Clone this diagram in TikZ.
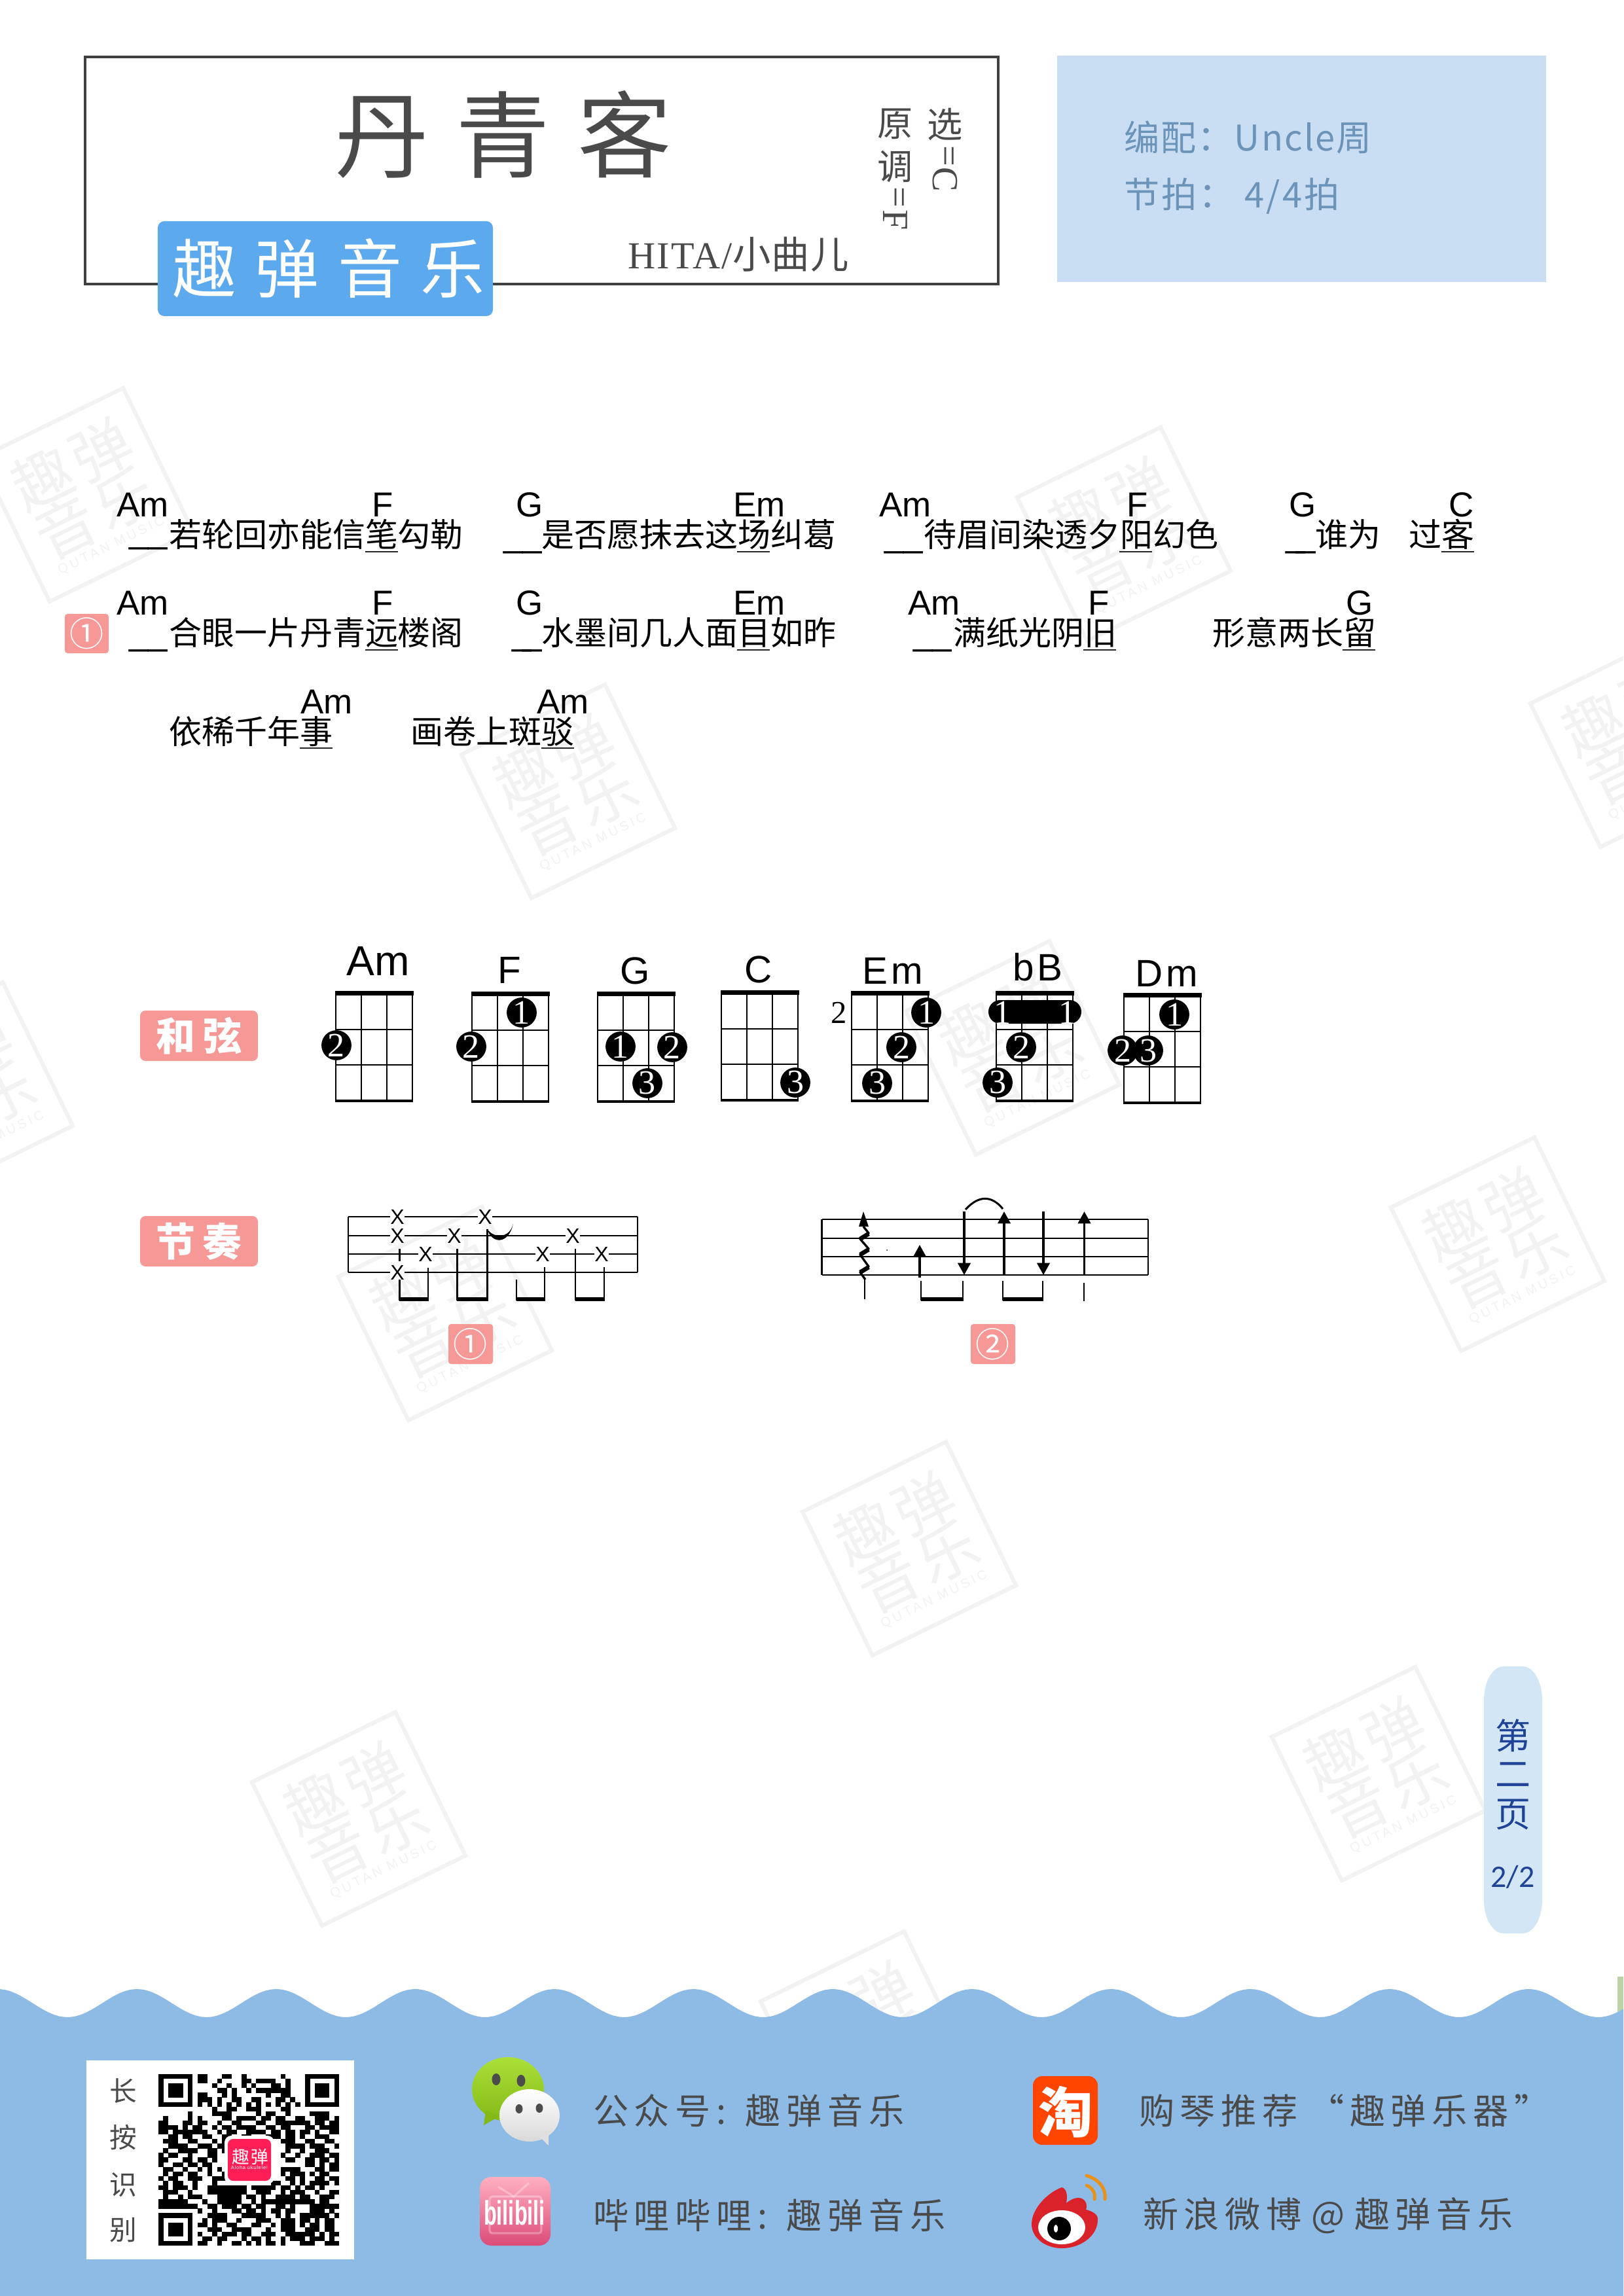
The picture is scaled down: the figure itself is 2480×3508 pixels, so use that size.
\documentclass[tikz,border=0pt]{standalone}
\usepackage{fontspec}
\usetikzlibrary{arrows.meta}
\setmainfont{Liberation Sans}
\newfontfamily\cjk{Noto Sans CJK SC}
\newfontfamily\serifl{Liberation Serif}
\newfontfamily\carl{Carlito}
\definecolor{titlegray}{HTML}{4A4A4A}
\definecolor{badgeblue}{HTML}{5CA9EE}
\definecolor{boxblue}{HTML}{C9DEF3}
\definecolor{boxtext}{HTML}{6C93B8}
\definecolor{salmon}{HTML}{F59896}
\definecolor{wm}{HTML}{F2F2F2}
\definecolor{foot}{HTML}{8DBBE6}
\definecolor{tabblue}{HTML}{D3E6F6}
\definecolor{tabtext}{HTML}{1F4396}
\definecolor{strip}{HTML}{BCD3A8}
\definecolor{qrred}{HTML}{FF1F56}
\definecolor{tborange}{HTML}{FF4500}
\definecolor{wbred}{HTML}{D9222A}
\definecolor{wborange}{HTML}{E8921A}
\definecolor{wxtop}{HTML}{ABE038}
\definecolor{wxbot}{HTML}{84BA17}
\definecolor{blitop}{HTML}{FFB0C0}
\definecolor{blibot}{HTML}{DC4B78}
\newcounter{nn}
\newcommand\tn[4][]{\stepcounter{nn}\node[#1] (n\arabic{nn}) at (#2,#3) {#4};}
\newcommand\fs[1]{\fontsize{#1}{#1}\selectfont}
\newcommand\lsp[1]{\addfontfeature{LetterSpace=#1}}
% lyric helpers
\newcommand\chd[3]{\tn[chordlbl]{#1}{#2}{#3}}
\newcommand\lyr[3]{\tn[lyric]{#1}{#2}{#3}}
\newcommand\dash[2]{\tn[chordlbl]{#1}{#2}{\_\_}}
\newcommand\sdash[2]{\tn[chordlbl]{#1}{#2}{\_\kern-3pt\_}}
\newcommand\ul[2]{\draw[uline] (#1,#2) -- (#1+50,#2);}
% chord grid
\newcommand\grid[2]{%
  \fill[black] (#1-1.5,#2) rectangle (#1+118.5,#2+7);
  \foreach \k in {0,1,2,3} \draw[fret] (#1+\k*39,#2+7) -- (#1+\k*39,#2+168);
  \foreach \r in {59,113} \draw[fret] (#1,#2+\r) -- (#1+117,#2+\r);
  \draw[fretb] (#1-1,#2+168) -- (#1+118,#2+168);
}
\newcommand\fdot[3]{\tn[fdotst]{#1}{#2}{#3}}
\newcommand\stamp[2]{%
  \begin{scope}[shift={(#1,#2)},rotate=26,transform shape]
    \draw[line width=1.44pt,wm] (-122,-122) rectangle (122,122);
    \tn[wmt]{-50}{-52}{趣}\tn[wmt]{50}{-52}{弹}
    \tn[wmt]{-50}{31}{音}\tn[wmt]{50}{31}{乐}
    \tn[wmq]{0}{87}{QUTAN MUSIC}
  \end{scope}}
% QR
\makeatletter
\newcount\qrr \newcount\qrc
\def\qrscan#1{\ifx#1;\else\if#11\fill[black] (242+\the\qrc*7.46,3169+\the\qrr*7.08) rectangle ++(7.7,7.3);\fi\advance\qrc by 1 \expandafter\qrscan\fi}
\newcommand\qrrow[1]{\qrc=0 \qrscan#1;\advance\qrr by 1 }
\makeatother
\begin{document}
\begin{tikzpicture}[x=0.24pt,y=-0.24pt,
  every node/.style={inner sep=0pt,outer sep=0pt},
  chordlbl/.style={anchor=base west,font=\fs{12.7}},
  lyric/.style={anchor=base west,font=\cjk\fs{12}},
  uline/.style={line width=0.65pt,black!85},
  fret/.style={line width=0.55pt,black},
  fretb/.style={line width=0.9pt,black},
  fdotst/.style={circle,fill=black,minimum size=11pt,text=white,font=\serifl\fs{12.5}},
  cname/.style={font=\fs{14}},
  wmt/.style={font=\cjk\fs{22},text=wm},
  wmq/.style={font=\fs{4.8}\lsp{22},text=wm},
  staff/.style={line width=0.6pt,black},
  stem/.style={line width=0.55pt,black},
  xmark/.style={fill=white,font=\fs{7.7}},
  badge/.style={fill=salmon,rounded corners=2pt,text=white,font=\cjk\bfseries\fs{14.4}\lsp{18}},
  num/.style={fill=salmon,rounded corners=1pt,text=white,font=\cjk\fs{12.5}},
  up/.style={line width=0.85pt,-{Triangle[length=4.4pt,width=4.6pt]}},
  foottext/.style={anchor=west,text=titlegray,font=\cjk\fs{13}\lsp{16}},
  ]
\path[use as bounding box] (0,0) rectangle (2480,3508);
\clip (0,0) rectangle (2480,3508);
\fill[white] (0,0) rectangle (2480,3508);
% watermarks
\stamp{132}{756}\stamp{1717}{816}\stamp{868}{1209}\stamp{2501}{1131}
\stamp{-52}{1664}\stamp{1547}{1601}\stamp{680}{2007}\stamp{2288}{1901}
\stamp{1389}{2366}\stamp{548}{2779}\stamp{2106}{2710}\stamp{1325}{3114}
% title block
\draw[line width=0.85pt,black!75] (130,87) rectangle (1525,434);
\tn[font=\cjk\fs{34.5}\lsp{29},text=titlegray]{769}{205}{丹青客}
\tn[fill=badgeblue,rounded corners=2.4pt,minimum width=512*0.24pt,minimum height=145*0.24pt]{497}{410.5}{}
\tn[font=\cjk\fs{23.5}\lsp{29},text=white]{502}{410}{趣弹音乐}
\tn[anchor=base west,font=\serifl\fs{14},text=titlegray]{959}{411}{\addfontfeature{LetterSpace=4}HITA/{\cjk\lsp{2} 小曲儿}}
\tn[font=\cjk\fs{13},text=titlegray]{1444}{190}{选}
\tn[font=\serifl\fs{13.5},text=titlegray,rotate=-90]{1444}{238}{=}
\tn[font=\serifl\fs{13.5},text=titlegray,rotate=-90]{1444}{274}{C}
\tn[font=\cjk\fs{13},text=titlegray]{1368}{189}{原}
\tn[font=\cjk\fs{13},text=titlegray]{1368}{254}{调}
\tn[font=\serifl\fs{13.5},text=titlegray,rotate=-90]{1368}{301}{=}
\tn[font=\serifl\fs{13.5},text=titlegray,rotate=-90]{1368}{336}{F}
% info box
\fill[boxblue] (1615,85) rectangle (2362,431);
\tn[anchor=west,text=boxtext,font=\cjk\fs{13}\lsp{4}]{1717}{210}{编配：Uncle周}
\tn[anchor=west,text=boxtext,font=\cjk\fs{13}\lsp{6}]{1717}{300}{节拍： 4/4拍}
% lyrics line 1
\chd{178}{790}{Am}\chd{568}{790}{F}\chd{788}{790}{G}\chd{1120}{790}{Em}
\chd{1343}{790}{Am}\chd{1721}{790}{F}\chd{1969}{790}{G}\chd{2213}{790}{C}
\dash{197}{830}\lyr{258}{836}{若轮回亦能信笔勾勒}\ul{558}{843}
\dash{769}{836}\lyr{827}{836}{是否愿抹去这场纠葛}\ul{1126}{843}
\dash{1351}{836}\lyr{1411}{836}{待眉间染透夕阳幻色}\ul{1710}{843}
\sdash{1964}{836}\lyr{2009}{836}{谁为}\lyr{2152}{836}{过客}\ul{2202}{843}
% lyrics line 2
\tn[num,minimum width=67*0.24pt,minimum height=60*0.24pt]{132.5}{968}{①}
\chd{178}{940}{Am}\chd{568}{940}{F}\chd{788}{940}{G}\chd{1120}{940}{Em}
\chd{1387}{940}{Am}\chd{1662}{940}{F}\chd{2056}{940}{G}
\dash{197}{986}\lyr{258}{986}{合眼一片丹青远楼阁}\ul{558}{993}
\sdash{782}{986}\lyr{827}{986}{水墨间几人面目如昨}\ul{1126}{993}
\dash{1395}{986}\lyr{1456}{986}{满纸光阴旧}\ul{1655}{993}
\lyr{1852}{986}{形意两长留}\ul{2051}{993}
% lyrics line 3
\chd{459}{1090}{Am}\chd{820}{1090}{Am}
\lyr{258}{1136}{依稀千年事}\ul{458}{1143}
\lyr{627}{1136}{画卷上斑驳}\ul{827}{1143}
% chord section
\tn[badge,minimum width=180*0.24pt,minimum height=77*0.24pt]{304}{1582.5}{和弦}
\tn[cname,font=\fs{15.4}]{578}{1468}{Am}
\tn[cname]{778}{1482}{F}
\tn[cname]{970}{1483}{G}
\tn[cname]{1159}{1481}{C}
\tn[cname,font=\fs{14}\lsp{8}]{1364}{1483}{Em}
\tn[cname,font=\fs{14}\lsp{8}]{1585}{1478}{bB}
\tn[cname,font=\fs{14}\lsp{8}]{1782}{1487}{Dm}
\grid{513}{1514}\grid{721}{1515}\grid{913}{1515}\grid{1102}{1513}
\grid{1301}{1514}\grid{1522}{1514}\grid{1717}{1517}
\fdot{514}{1597}{2}
\fdot{797}{1547}{1}\fdot{720}{1599}{2}
\fdot{948}{1599}{1}\fdot{1027}{1600}{2}\fdot{989}{1655}{3}
\fdot{1215}{1654}{3}
\tn[font=\serifl\fs{11.7}]{1282}{1547}{2}
\fdot{1415}{1547}{1}\fdot{1377}{1600}{2}\fdot{1340}{1655}{3}
\fill[black,rounded corners=4.3pt] (1510,1528) rectangle (1652,1564);
\tn[text=white,font=\serifl\fs{12.5}]{1531}{1547}{1}\tn[text=white,font=\serifl\fs{12.5}]{1630}{1547}{1}
\fdot{1560}{1600}{2}\fdot{1524}{1654}{3}
\fdot{1794}{1550}{1}\fdot{1715}{1605}{2}\fdot{1754}{1605}{3}
% rhythm 1
\tn[badge,minimum width=180*0.24pt,minimum height=77*0.24pt]{304}{1896.5}{节奏}
\foreach \y in {1859,1888,1916,1944} \draw[staff] (532,\y) -- (974,\y);
\draw[staff] (532,1859) -- (532,1944);\draw[staff] (974,1859) -- (974,1944);
\draw[stem] (610.5,1908) -- (610.5,1927);
\draw[stem] (610.5,1955) -- (610.5,1987);
\draw[stem] (654,1937) -- (654,1987);
\draw[stem] (698.5,1908) -- (698.5,1987);
\draw[stem] (744.5,1878) -- (744.5,1987);
\draw[stem] (789,1955) -- (789,1987);
\draw[stem] (832,1936) -- (832,1987);
\draw[stem] (879,1908) -- (879,1987);
\draw[stem] (923,1936) -- (923,1987);
\fill[black] (610,1982) rectangle (655,1988);
\fill[black] (698,1982) rectangle (746,1988);
\fill[black] (788.5,1982) rectangle (833,1988);
\fill[black] (878.5,1982) rectangle (924,1988);
\fill[black] (744.5,1878) .. controls (750,1899) and (776,1904) .. (784,1870) .. controls (778,1893) and (754,1892) .. (744.5,1878) -- cycle;
\tn[xmark]{607}{1859}{X}\tn[xmark]{607}{1888}{X}\tn[xmark]{607}{1944}{X}
\tn[xmark]{650}{1916}{X}\tn[xmark]{694}{1888}{X}\tn[xmark]{741}{1859}{X}
\tn[xmark]{829}{1916}{X}\tn[xmark]{875}{1888}{X}\tn[xmark]{919}{1916}{X}
\tn[num,minimum width=68*0.24pt,minimum height=61*0.24pt]{719}{2053.5}{①}
% rhythm 2
\foreach \y in {1863,1892,1920,1948} \draw[staff] (1255.5,\y) -- (1754,\y);
\draw[staff] (1255.5,1863) -- (1255.5,1948);\draw[staff] (1754,1863) -- (1754,1948);
\draw[line width=0.8pt,line join=round] (1319,1874) -- (1327,1884) -- (1314,1893) -- (1327,1908) -- (1314,1917) -- (1327,1935) -- (1314,1944) -- (1322,1955);
\draw[line width=1.6pt] (1327,1885) -- (1314,1893);
\draw[line width=1.6pt] (1327,1909) -- (1314,1917);
\draw[line width=1.6pt] (1327,1936) -- (1314,1944);
\fill[black] (1319,1851) -- (1327,1874) -- (1312,1874) -- cycle;
\draw[stem] (1321,1955) -- (1321,1985);
\draw[up] (1405,1952) -- (1405,1902);
\draw[up] (1473,1851) -- (1473,1948);
\draw[up] (1534,1947) -- (1534,1851);
\draw[up] (1594,1851) -- (1594,1948);
\draw[up] (1656.5,1947) -- (1656.5,1851);
\draw[line width=0.72pt] (1475,1848) .. controls (1495,1826) and (1515,1826) .. (1532,1847);
\fill[black] (1355,1910) circle (1);
\draw[stem] (1407,1957) -- (1407,1987);\draw[stem] (1471,1957) -- (1471,1987);
\draw[stem] (1532,1957) -- (1532,1987);\draw[stem] (1593,1957) -- (1593,1987);
\draw[stem] (1656,1960) -- (1656,1988);
\fill[black] (1406.5,1982) rectangle (1471.5,1988);
\fill[black] (1531.5,1982) rectangle (1593.5,1988);
\tn[num,minimum width=68*0.24pt,minimum height=61*0.24pt]{1517}{2053.5}{②}
% page tab
\fill[tabblue] (2297,2546) -- (2326,2546) .. controls (2343,2546) and (2356,2570) .. (2356,2597) -- (2356,2904) .. controls (2356,2930) and (2343,2954) .. (2326,2954) -- (2297,2954) .. controls (2280,2954) and (2267,2930) .. (2267,2904) -- (2267,2597) .. controls (2267,2570) and (2280,2546) .. (2297,2546) -- cycle;
\tn[text=tabtext,font=\cjk\fs{13}]{2312}{2652}{第}
\tn[text=tabtext,font=\cjk\fs{13}]{2312}{2712}{二}
\tn[text=tabtext,font=\cjk\fs{13}]{2312}{2772}{页}
\tn[text=tabtext,font=\carl\fs{11.5}]{2311}{2868}{2/2}
% footer
\fill[strip] (2471,3020) rectangle (2480,3075);
\fill[foot] (0,3508) -- plot[domain=0:2480,samples=300] (\x,{3060.5+21.5*cos((\x-103)/212.6*360)}) -- (2480,3508) -- cycle;
\fill[white] (132,3148) rectangle (541,3452);
\tn[text=titlegray,font=\cjk\fs{10}]{188}{3195}{长}
\tn[text=titlegray,font=\cjk\fs{10}]{188}{3266}{按}
\tn[text=titlegray,font=\cjk\fs{10}]{188}{3338}{识}
\tn[text=titlegray,font=\cjk\fs{10}]{188}{3407}{别}
\qrr=0
\qrrow{1111111011000110010000000100001111111}
\qrrow{1000001011001000011011110010001000001}
\qrrow{1011101000010010010100011010001011101}
\qrrow{1011101000001101001011111110001011101}
\qrrow{1011101011000101000000100110001011101}
\qrrow{1000001011101001100110001101001000001}
\qrrow{1111111010101010101010101010101111111}
\qrrow{0000000000010011001110000110000000000}
\qrrow{0000001000011110000010110010000111100}
\qrrow{0100001010000110111101101100110011101}
\qrrow{1100011011001001100011001111111011011}
\qrrow{1111010110010110111100110110001101111}
\qrrow{1101111111001011001111011011011010011}
\qrrow{0011011001100110011000111011010011100}
\qrrow{0111001100010110000000000111001100110}
\qrrow{0011110011101100000000000011110111001}
\qrrow{0100111100110110000000000010010011100}
\qrrow{1011001000110000000000000100100111011}
\qrrow{1100011011010000000000000011001101101}
\qrrow{1001101101100000000000000000001101011}
\qrrow{0110010010101000000000000111100011011}
\qrrow{0101101100100100000000000101110101100}
\qrrow{1011001110011100000000000011010011011}
\qrrow{0101100100010000000000011001010111101}
\qrrow{1101110100111111110111110110101101000}
\qrrow{0111001000111111110011100101110010011}
\qrrow{0100101110001111101101001111011001110}
\qrrow{1111110001001111100101111111111101100}
\qrrow{1111111100110111011011001101000111111}
\qrrow{0000000010010001101101011011000111010}
\qrrow{1111111000111100011111001010011111101}
\qrrow{1000001001011100100011100111011010110}
\qrrow{1011101011010011000110010111010110110}
\qrrow{1011101000111001111000100111001110110}
\qrrow{1011101010010111011001110011111101011}
\qrrow{1000001001101100010110100101110111010}
\qrrow{1111111011001001101010110100011100111}
\fill[white,rounded corners=2.5pt] (343,3263) rectangle (419,3337);
\fill[qrred,rounded corners=2pt] (348,3268) rectangle (414,3332);
\tn[text=white,font=\cjk\fs{6.4}\lsp{8}]{382}{3295}{趣弹}
\tn[text=white,font=\fs{1.8}\lsp{10}]{381}{3312}{Aloha ukulele!}
% wechat icon
\shade[top color=wxtop,bottom color=wxbot] (776,3192) ellipse [x radius=55,y radius=49];
\fill[wxbot] (742,3225) -- (739,3247) -- (765,3232) -- cycle;
\fill[black!70] (758,3177) ellipse [x radius=6.5,y radius=9];
\fill[black!70] (796,3179) ellipse [x radius=6.5,y radius=9];
\shade[top color=white,bottom color=black!15] (809,3232) ellipse [x radius=46,y radius=40];
\fill[black!12] (825,3265) -- (838,3278) -- (838,3260) -- cycle;
\fill[black!70] (793,3222) ellipse [x radius=5.5,y radius=7];
\fill[black!70] (824,3221) ellipse [x radius=5.5,y radius=7];
% bilibili icon
\shade[top color=blitop,bottom color=blibot,rounded corners=4.2pt] (733,3326) rectangle (841,3431);
\draw[white,opacity=.3,line width=0.8pt,rounded corners=1pt] (748,3356) rectangle (827,3412);
\draw[white,opacity=.3,line width=0.8pt] (761,3341) -- (785,3356) -- (808,3335);
\tn[text=white,font=\bfseries\fs{7.8},yscale=1.6,transform shape]{786}{3381}{bilibili}
% taobao icon
\fill[tborange,rounded corners=3.4pt] (1578,3172) rectangle (1677,3277);
\tn[text=white,font=\cjk\bfseries\fs{20}]{1628}{3227}{淘}
% weibo icon
\fill[wbred] (1622,3342) .. controls (1600,3350) and (1576,3375) .. (1576,3398) .. controls (1576,3420) and (1598,3435) .. (1622,3435) .. controls (1652,3435) and (1678,3415) .. (1677,3390) .. controls (1677,3383) and (1668,3378) .. (1659,3376) .. controls (1662,3368) and (1658,3358) .. (1647,3358) .. controls (1640,3358) and (1634,3362) .. (1629,3366) .. controls (1631,3355) and (1630,3344) .. (1622,3342) -- cycle;
\fill[white] (1622,3403) ellipse [x radius=36,y radius=26];
\fill[black] (1618,3405) ellipse [x radius=18,y radius=18];
\fill[white] (1613,3405) ellipse [x radius=3,y radius=6];
\draw[wborange,line width=1.2pt,line cap=round] (1660,3324) .. controls (1680,3330) and (1690,3345) .. (1688,3360);
\draw[wborange,line width=1.2pt,line cap=round] (1660,3339) .. controls (1668,3342) and (1674,3350) .. (1672,3360);
% footer text
\tn[foottext]{906}{3225}{公众号:\kern7pt 趣弹音乐}
\tn[foottext]{906}{3385}{哔哩哔哩:\kern7pt 趣弹音乐}
\tn[foottext]{1740}{3225}{购琴推荐\kern4pt “趣弹乐器”}
\tn[foottext]{1746}{3385}{新浪微博\kern3.5pt @\kern3.5pt 趣弹音乐}
\end{tikzpicture}
\end{document}
